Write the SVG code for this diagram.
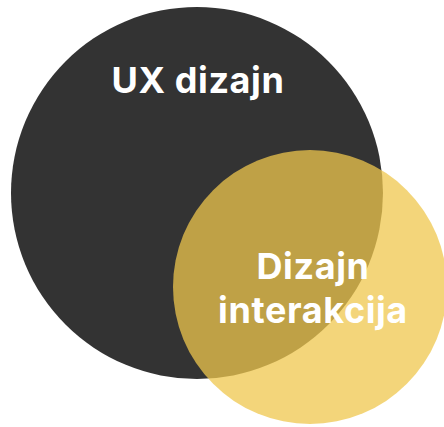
<svg xmlns="http://www.w3.org/2000/svg" width="444" height="427" viewBox="0 0 444 427">
<style>
.lbl{font-family:Inter,"Noto Sans","Liberation Sans",sans-serif;font-weight:700;font-size:36px;letter-spacing:0.6px;fill:#ffffff;text-anchor:middle}
</style>
<rect width="444" height="427" fill="#ffffff"/>
<g id="ux">
<circle cx="197" cy="193" r="186" fill="#333333"/>
</g>
<g id="interakcija">
<circle cx="310" cy="287" r="137" fill="#EFC74D" fill-opacity="0.75"/>
</g>
<g id="labels">
<text class="lbl" x="198" y="93">UX dizajn</text>
<text class="lbl" x="313" y="279">Dizajn</text>
<text class="lbl" x="313" y="323">interakcija</text>
</g>
</svg>
